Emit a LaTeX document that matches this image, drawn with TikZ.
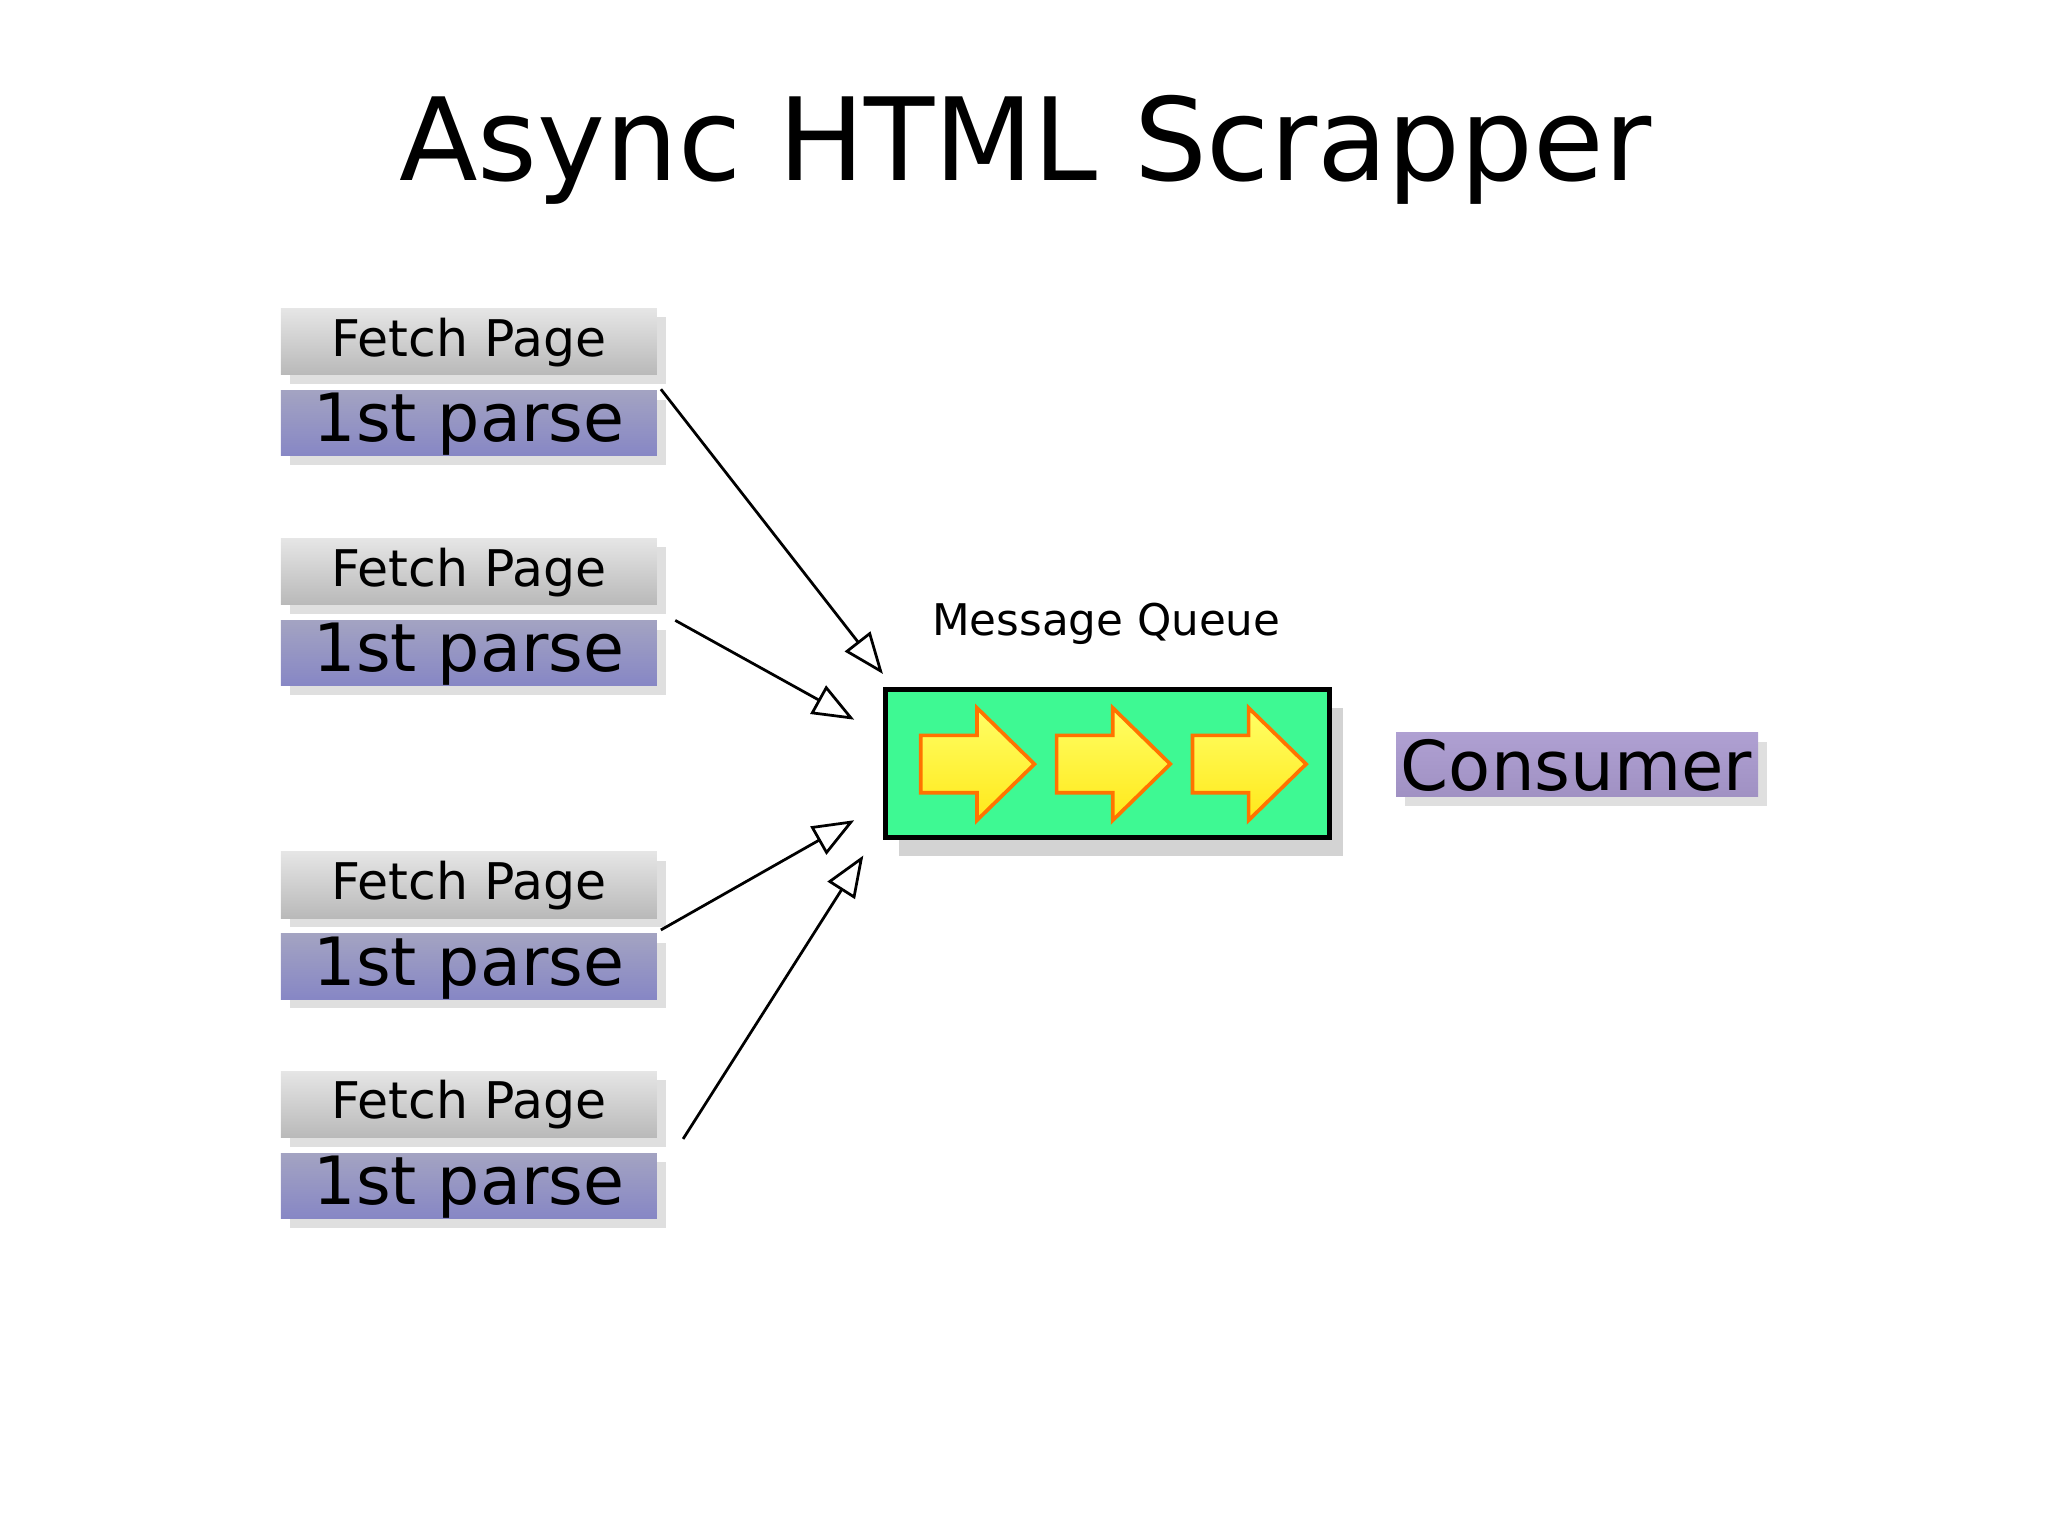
\documentclass[tikz,border=0pt]{standalone}
\usepackage{fontspec}
\setmainfont{DejaVu Sans}
\usetikzlibrary{arrows.meta,shadows}
\begin{document}
\begin{tikzpicture}[x=0.01cm,y=-0.01cm,
  fetch/.style={draw=none,top color=gray!20,bottom color=gray!55,drop shadow={shadow xshift=2pt,shadow yshift=-2pt,opacity=0.25}},
  parse/.style={draw=none,top color=blue!20!gray!60,bottom color=blue!35!gray!70,drop shadow={shadow xshift=2pt,shadow yshift=-2pt,opacity=0.25}},
  conn/.style={-{Triangle[open,length=9pt,width=7pt]},line width=0.6pt},
  yarrow/.style={draw=orange!90!red,line width=0.8pt,top color=yellow!60,bottom color=yellow!80!orange!90}]
\useasboundingbox (0,0) rectangle (1568,1176);
\node (title) at (785,115) {\fontsize{25}{30}\selectfont Async HTML Scrapper};
\foreach \n/\y in {1/236,2/412,3/652,4/820}{
  \fill[fetch] (215,\y) rectangle (503,\y+51);
  \node (f\n) at (359,\y+26) {\fontsize{11}{13}\selectfont Fetch Page};
  \fill[parse] (215,\y+63) rectangle (503,\y+113);
  \node (p\n) at (359,\y+89) {\fontsize{14.5}{17}\selectfont 1st parse};
}
\draw[fill={rgb,255:red,62;green,249;blue,147},line width=1pt,drop shadow={shadow xshift=3pt,shadow yshift=-4pt,opacity=0.35}] (678,528) rectangle (1018,641);
\node (mqlabel) at (847,478) {\fontsize{9.5}{11}\selectfont Message Queue};
\foreach \x in {705,809,913}{
  \draw[yarrow] (\x,563) -- (\x+43,563) -- (\x+43,542) -- (\x+87,585) -- (\x+43,628) -- (\x+43,607) -- (\x,607) -- cycle;
}
\fill[draw=none,top color={rgb,255:red,175;green,160;blue,210},bottom color={rgb,255:red,160;green,145;blue,195},drop shadow={shadow xshift=2pt,shadow yshift=-2pt,opacity=0.25}] (1069,561) rectangle (1346,610);
\node (cons) at (1207,586) {\fontsize{15}{18}\selectfont Consumer};
\coordinate (s1) at (506,298); \coordinate (e1) at (676,516);
\coordinate (s2) at (517,475); \coordinate (e2) at (654,551);
\coordinate (s3) at (506,712); \coordinate (e3) at (654,628);
\coordinate (s4) at (523,872); \coordinate (e4) at (661,655);
\foreach \i in {1,2,3,4}{\draw[conn] (s\i) -- (e\i);}
\end{tikzpicture}
\end{document}
